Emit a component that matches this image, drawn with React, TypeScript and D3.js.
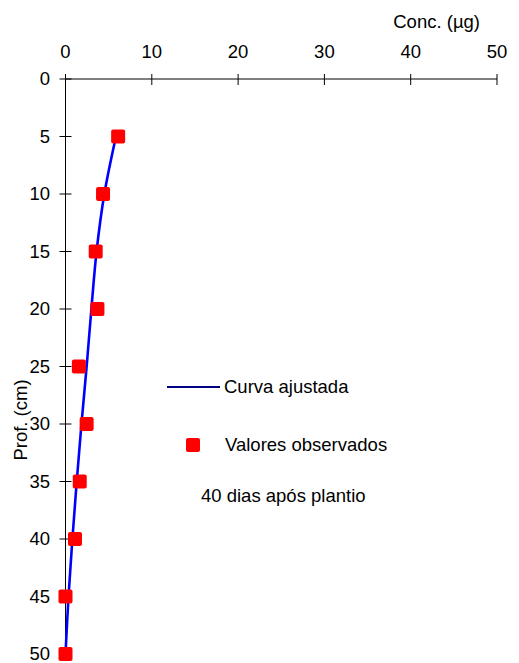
import { useEffect, useRef } from "react"
import * as d3 from "d3"

const depths = [5, 10, 15, 20, 25, 30, 35, 40, 45, 50]
const observed = [6.1, 4.35, 3.5, 3.7, 1.55, 2.45, 1.65, 1.1, 0.0, 0.0]
const fitted = [5.85, 4.5, 3.6, 3.0, 2.45, 1.85, 1.3, 0.8, 0.35, 0.0]
const concTicks = [0, 10, 20, 30, 40, 50]
const depthTicks = [0, 5, 10, 15, 20, 25, 30, 35, 40, 45, 50]

export default function App() {
  const ref = useRef<SVGSVGElement>(null)

  useEffect(() => {
    if (!ref.current) return
    const el = ref.current
    d3.select(el).selectAll("*").remove()

    const W = 519
    const H = 663
    const font = "Liberation Sans, Arial, sans-serif"
    const fs = 18.5

    const svg = d3.select(el).attr("width", W).attr("height", H).attr("viewBox", `0 0 ${W} ${H}`)

    const x = d3.scaleLinear().domain([0, 50]).range([65.5, 497])
    const y = d3.scaleLinear().domain([0, 50]).range([79, 654])

    // top axis
    svg.append("line")
      .attr("x1", x(0)).attr("x2", x(50))
      .attr("y1", y(0)).attr("y2", y(0))
      .attr("stroke", "#000").attr("stroke-width", 1)

    svg.append("g")
      .selectAll("line")
      .data(concTicks)
      .join("line")
      .attr("x1", (d) => x(d)).attr("x2", (d) => x(d))
      .attr("y1", y(0) - 5).attr("y2", y(0) + 6)
      .attr("stroke", "#000")

    svg.append("g")
      .selectAll("text")
      .data(concTicks)
      .join("text")
      .attr("x", (d) => x(d))
      .attr("y", 58)
      .attr("text-anchor", "middle")
      .attr("font-family", font)
      .attr("font-size", fs)
      .text((d) => d)

    svg.append("text")
      .attr("x", 480)
      .attr("y", 28)
      .attr("text-anchor", "end")
      .attr("font-family", font)
      .attr("font-size", fs)
      .text("Conc. (µg)")

    // left axis
    svg.append("line")
      .attr("x1", x(0)).attr("x2", x(0))
      .attr("y1", y(0)).attr("y2", y(50))
      .attr("stroke", "#000").attr("stroke-width", 1)

    svg.append("g")
      .selectAll("line")
      .data(depthTicks)
      .join("line")
      .attr("x1", x(0) - 6).attr("x2", x(0) + 6)
      .attr("y1", (d) => y(d)).attr("y2", (d) => y(d))
      .attr("stroke", "#000")

    svg.append("g")
      .selectAll("text")
      .data(depthTicks)
      .join("text")
      .attr("x", 50)
      .attr("y", (d) => y(d))
      .attr("dy", "0.35em")
      .attr("text-anchor", "end")
      .attr("font-family", font)
      .attr("font-size", fs)
      .text((d) => d)

    svg.append("text")
      .attr("transform", "translate(27,420) rotate(-90)")
      .attr("text-anchor", "middle")
      .attr("font-family", font)
      .attr("font-size", fs)
      .text("Prof. (cm)")

    // fitted curve
    const line = d3
      .line<number>()
      .x((d) => x(d))
      .y((_, i) => y(depths[i]))
      .curve(d3.curveCatmullRom.alpha(0.5))

    svg.append("path")
      .datum(fitted)
      .attr("fill", "none")
      .attr("stroke", "#0000ff")
      .attr("stroke-width", 2.6)
      .attr("d", line)

    // observed
    const s = 14
    svg.append("g")
      .selectAll("rect")
      .data(observed)
      .join("rect")
      .attr("x", (d) => x(d) - s / 2)
      .attr("y", (_, i) => y(depths[i]) - s / 2)
      .attr("width", s)
      .attr("height", s)
      .attr("rx", 2)
      .attr("fill", "#ff0000")

    // legend
    svg.append("line")
      .attr("x1", 167).attr("x2", 220)
      .attr("y1", 387).attr("y2", 387)
      .attr("stroke", "#000080").attr("stroke-width", 2)
    svg.append("text")
      .attr("x", 224).attr("y", 393)
      .attr("font-family", font).attr("font-size", fs)
      .text("Curva ajustada")

    svg.append("rect")
      .attr("x", 193 - s / 2).attr("y", 445 - s / 2)
      .attr("width", s).attr("height", s).attr("rx", 2)
      .attr("fill", "#ff0000")
    svg.append("text")
      .attr("x", 225).attr("y", 451)
      .attr("font-family", font).attr("font-size", fs)
      .text("Valores observados")

    svg.append("text")
      .attr("x", 201).attr("y", 502)
      .attr("font-family", font).attr("font-size", fs)
      .text("40 dias após plantio")
  }, [])

  return <svg ref={ref} style={{ position: "absolute", left: 0, top: 0, background: "#fff" }} />
}
